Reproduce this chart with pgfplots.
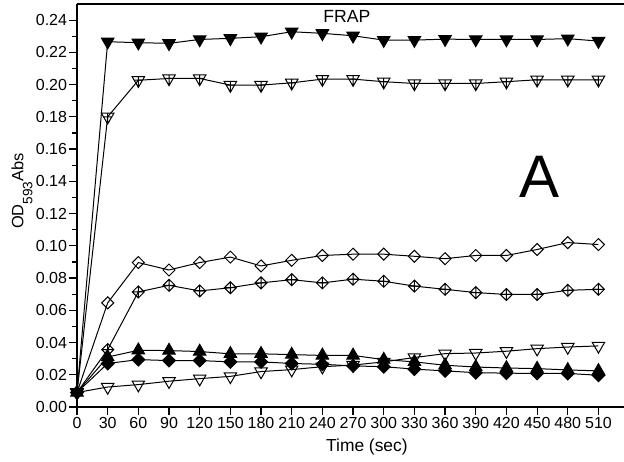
\documentclass[border=0pt]{standalone}
\usepackage{fontspec}
\setmainfont{Liberation Sans}
\usepackage{pgfplots}
\pgfplotsset{compat=1.18}

% marks of the original: down triangles and diamonds, some with a cross
\pgfdeclareplotmark{dtri}{%
  \pgfpathmoveto{\pgfqpoint{0pt}{-\pgfplotmarksize}}%
  \pgfpathlineto{\pgfqpoint{0.866\pgfplotmarksize}{0.5\pgfplotmarksize}}%
  \pgfpathlineto{\pgfqpoint{-0.866\pgfplotmarksize}{0.5\pgfplotmarksize}}%
  \pgfpathclose\pgfusepathqstroke}
\pgfdeclareplotmark{dtri*}{%
  \pgfpathmoveto{\pgfqpoint{0pt}{-\pgfplotmarksize}}%
  \pgfpathlineto{\pgfqpoint{0.866\pgfplotmarksize}{0.5\pgfplotmarksize}}%
  \pgfpathlineto{\pgfqpoint{-0.866\pgfplotmarksize}{0.5\pgfplotmarksize}}%
  \pgfpathclose\pgfusepathqfillstroke}
\pgfdeclareplotmark{dtri+}{%
  \pgfpathmoveto{\pgfqpoint{0pt}{-\pgfplotmarksize}}%
  \pgfpathlineto{\pgfqpoint{0.866\pgfplotmarksize}{0.5\pgfplotmarksize}}%
  \pgfpathlineto{\pgfqpoint{-0.866\pgfplotmarksize}{0.5\pgfplotmarksize}}%
  \pgfpathclose
  \pgfpathmoveto{\pgfqpoint{0pt}{-\pgfplotmarksize}}%
  \pgfpathlineto{\pgfqpoint{0pt}{0.5\pgfplotmarksize}}%
  \pgfpathmoveto{\pgfqpoint{-0.577\pgfplotmarksize}{0pt}}%
  \pgfpathlineto{\pgfqpoint{0.577\pgfplotmarksize}{0pt}}%
  \pgfusepathqstroke}
\pgfdeclareplotmark{dia}{%
  \pgfpathmoveto{\pgfqpoint{0pt}{\pgfplotmarksize}}%
  \pgfpathlineto{\pgfqpoint{\pgfplotmarksize}{0pt}}%
  \pgfpathlineto{\pgfqpoint{0pt}{-\pgfplotmarksize}}%
  \pgfpathlineto{\pgfqpoint{-\pgfplotmarksize}{0pt}}%
  \pgfpathclose\pgfusepathqstroke}
\pgfdeclareplotmark{dia*}{%
  \pgfpathmoveto{\pgfqpoint{0pt}{\pgfplotmarksize}}%
  \pgfpathlineto{\pgfqpoint{\pgfplotmarksize}{0pt}}%
  \pgfpathlineto{\pgfqpoint{0pt}{-\pgfplotmarksize}}%
  \pgfpathlineto{\pgfqpoint{-\pgfplotmarksize}{0pt}}%
  \pgfpathclose\pgfusepathqfillstroke}
\pgfdeclareplotmark{dia+}{%
  \pgfpathmoveto{\pgfqpoint{0pt}{\pgfplotmarksize}}%
  \pgfpathlineto{\pgfqpoint{\pgfplotmarksize}{0pt}}%
  \pgfpathlineto{\pgfqpoint{0pt}{-\pgfplotmarksize}}%
  \pgfpathlineto{\pgfqpoint{-\pgfplotmarksize}{0pt}}%
  \pgfpathclose
  \pgfpathmoveto{\pgfqpoint{0pt}{\pgfplotmarksize}}%
  \pgfpathlineto{\pgfqpoint{0pt}{-\pgfplotmarksize}}%
  \pgfpathmoveto{\pgfqpoint{-\pgfplotmarksize}{0pt}}%
  \pgfpathlineto{\pgfqpoint{\pgfplotmarksize}{0pt}}%
  \pgfusepathqstroke}

\begin{document}
\begin{tikzpicture}
\begin{axis}[
  scale only axis, width=273.5pt, height=201.5pt,
  font=\fontsize{8}{9.6}\selectfont,
  xmin=0, xmax=535, ymin=0, ymax=0.25,
  axis x line=box, axis y line=left,
  x axis line style={-, line width=0.8pt},
  y axis line style={-, line width=0.8pt},
  xtick={0,30,...,510}, xtick pos=left, ytick pos=left,
  ytick={0,0.02,...,0.241}, minor y tick num=1,
  tick align=outside, major tick length=3.8pt, minor tick length=2.3pt,
  tick style={black, line width=0.6pt},
  /pgf/number format/assume math mode=true,
  yticklabel style={inner sep=1pt, /pgf/number format/fixed, /pgf/number format/fixed zerofill, /pgf/number format/precision=2},
  xticklabel style={inner sep=1pt},
  xlabel={Time (sec)},
  xlabel style={at={(ticklabel cs:0.53)}, anchor=north, inner sep=0pt, yshift=-4pt, font=\fontsize{8.7}{10}\selectfont},
  ylabel={OD\raisebox{-4.5pt}{\fontsize{6.8}{7}\selectfont 593}Abs},
  ylabel style={at={(ticklabel cs:0.536)}, anchor=south, inner sep=0pt, yshift=0.5pt, font=\fontsize{8.2}{10}\selectfont},
  clip=false,
  every axis plot/.append style={black, line width=0.5pt, mark options={solid, line width=0.5pt}},
]
% filled down triangles
\addplot[mark=dtri*, mark size=3.6pt] coordinates {
 (0,0.009) (30,0.2266) (60,0.2260) (90,0.2256) (120,0.2280) (150,0.2287) (180,0.2297)
 (210,0.2328) (240,0.2318) (270,0.2303) (300,0.2276) (330,0.2276) (360,0.2282)
 (390,0.2280) (420,0.2280) (450,0.2280) (480,0.2285) (510,0.2270)};
% crossed open down triangles
\addplot[mark=dtri+, mark size=3.6pt] coordinates {
 (0,0.009) (30,0.1800) (60,0.2027) (90,0.2038) (120,0.2038) (150,0.1997) (180,0.1997)
 (210,0.2011) (240,0.2034) (270,0.2034) (300,0.2018) (330,0.2007) (360,0.2007)
 (390,0.2007) (420,0.2018) (450,0.2030) (480,0.2030) (510,0.2030)};
% open diamonds
\addplot[mark=dia, mark size=3pt] coordinates {
 (0,0.009) (30,0.0646) (60,0.0896) (90,0.0850) (120,0.0896) (150,0.0930) (180,0.0875)
 (210,0.0910) (240,0.0940) (270,0.0948) (300,0.0948) (330,0.0935) (360,0.0920)
 (390,0.0940) (420,0.0940) (450,0.0977) (480,0.1020) (510,0.1008)};
% crossed open diamonds
\addplot[mark=dia+, mark size=3pt] coordinates {
 (0,0.009) (30,0.0356) (60,0.0714) (90,0.0755) (120,0.0720) (150,0.0740) (180,0.0770)
 (210,0.0790) (240,0.0770) (270,0.0793) (300,0.0780) (330,0.0750) (360,0.0730)
 (390,0.0710) (420,0.0698) (450,0.0698) (480,0.0724) (510,0.0730)};
% open down triangles
\addplot[mark=dtri, mark size=3.6pt] coordinates {
 (0,0.009) (30,0.0124) (60,0.0139) (90,0.0160) (120,0.0176) (150,0.0190) (180,0.0220)
 (210,0.0232) (240,0.0250) (270,0.0260) (300,0.0280) (330,0.0307) (360,0.0331)
 (390,0.0335) (420,0.0346) (450,0.0362) (480,0.0372) (510,0.0379)};
% filled up triangles
\addplot[mark=triangle*, mark size=3.6pt, mark options={fill=black}] coordinates {
 (0,0.009) (30,0.0310) (60,0.0352) (90,0.0350) (120,0.0344) (150,0.0330) (180,0.0330)
 (210,0.0325) (240,0.0320) (270,0.0320) (300,0.0294) (330,0.0280) (360,0.0259)
 (390,0.0248) (420,0.0242) (450,0.0238) (480,0.0230) (510,0.0224)};
% filled diamonds
\addplot[mark=dia*, mark size=3.2pt] coordinates {
 (0,0.009) (30,0.0270) (60,0.0294) (90,0.0288) (120,0.0288) (150,0.0280) (180,0.0280)
 (210,0.0270) (240,0.0265) (270,0.0255) (300,0.0250) (330,0.0235) (360,0.0224)
 (390,0.0213) (420,0.0210) (450,0.0208) (480,0.0208) (510,0.0197)};
\node[font=\fontsize{8.8}{10}\selectfont] at (axis cs:264,0.242) {FRAP};
\node[font=\fontsize{30}{32}\selectfont] at (axis cs:452,0.1426) {A};
\end{axis}
\pgfresetboundingbox
\path[use as bounding box] ([xshift=-38.5pt,yshift=-27pt]current axis.south west) rectangle ([yshift=2pt]current axis.north east);
\end{tikzpicture}
\end{document}
